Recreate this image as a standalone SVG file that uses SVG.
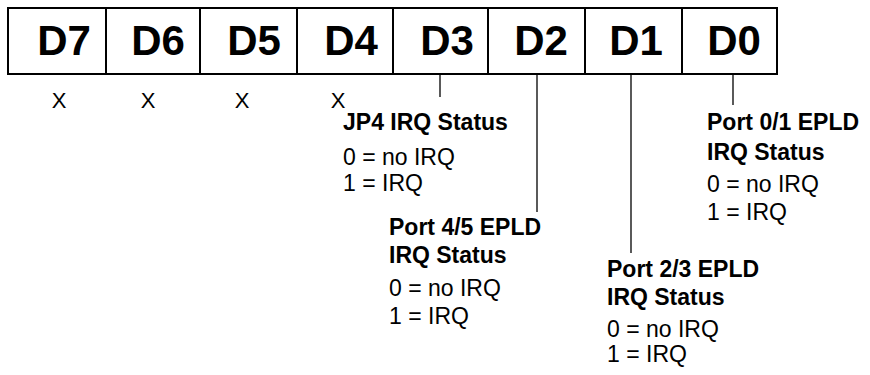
<svg xmlns="http://www.w3.org/2000/svg" width="870" height="375" viewBox="0 0 870 375">
<style>
.cell{fill:#fff;stroke:#000;stroke-width:2}
.bit{font-family:"Liberation Sans",Arial,sans-serif;font-weight:bold;font-size:42px;text-anchor:middle;fill:#000}
.x{font-family:"Liberation Sans",Arial,sans-serif;font-size:22px;text-anchor:middle;fill:#000}
.h{font-family:"Liberation Sans",Arial,sans-serif;font-weight:bold;font-size:23px;fill:#000}
.t{font-family:"Liberation Sans",Arial,sans-serif;font-size:23px;fill:#000}
.c{stroke:#000;stroke-width:1.3;fill:none}
</style>
<rect x="0" y="0" width="870" height="375" fill="#fff"/>
<g id="D7"><rect class="cell" x="8" y="8" width="98" height="66"/><text class="bit" x="64" y="55">D7</text><text class="x" x="59" y="108">X</text></g>
<g id="D6"><rect class="cell" x="106" y="8" width="94" height="66"/><text class="bit" x="158" y="55">D6</text><text class="x" x="148" y="108">X</text></g>
<g id="D5"><rect class="cell" x="200" y="8" width="97" height="66"/><text class="bit" x="254" y="55">D5</text><text class="x" x="242" y="108">X</text></g>
<g id="D4"><rect class="cell" x="297" y="8" width="96" height="66"/><text class="bit" x="351" y="55">D4</text><text class="x" x="338" y="108">X</text></g>
<g id="D3"><rect class="cell" x="393" y="8" width="95" height="66"/><text class="bit" x="447" y="55">D3</text></g>
<g id="D2"><rect class="cell" x="488" y="8" width="97" height="66"/><text class="bit" x="541" y="55">D2</text></g>
<g id="D1"><rect class="cell" x="585" y="8" width="97" height="66"/><text class="bit" x="636" y="55">D1</text></g>
<g id="D0"><rect class="cell" x="682" y="8" width="95" height="66"/><text class="bit" x="734" y="55">D0</text></g>
<g id="connectors">
<line class="c" x1="440" y1="74" x2="440" y2="97"/>
<line class="c" x1="537" y1="74" x2="537" y2="212"/>
<line class="c" x1="631" y1="74" x2="631" y2="253"/>
<line class="c" x1="733" y1="74" x2="733" y2="105"/>
</g>
<g id="jp4"><text class="h" x="343" y="130">JP4 IRQ Status</text><text class="t" x="343" y="165">0 = no IRQ</text><text class="t" x="343" y="191">1 = IRQ</text></g>
<g id="port45"><text class="h" x="389" y="235">Port 4/5 EPLD</text><text class="h" x="389" y="263">IRQ Status</text><text class="t" x="389" y="296">0 = no IRQ</text><text class="t" x="389" y="324">1 = IRQ</text></g>
<g id="port01"><text class="h" x="707" y="130">Port 0/1 EPLD</text><text class="h" x="707" y="160">IRQ Status</text><text class="t" x="707" y="192">0 = no IRQ</text><text class="t" x="707" y="220">1 = IRQ</text></g>
<g id="port23"><text class="h" x="607" y="277">Port 2/3 EPLD</text><text class="h" x="607" y="305">IRQ Status</text><text class="t" x="607" y="337">0 = no IRQ</text><text class="t" x="607" y="362">1 = IRQ</text></g>
</svg>
